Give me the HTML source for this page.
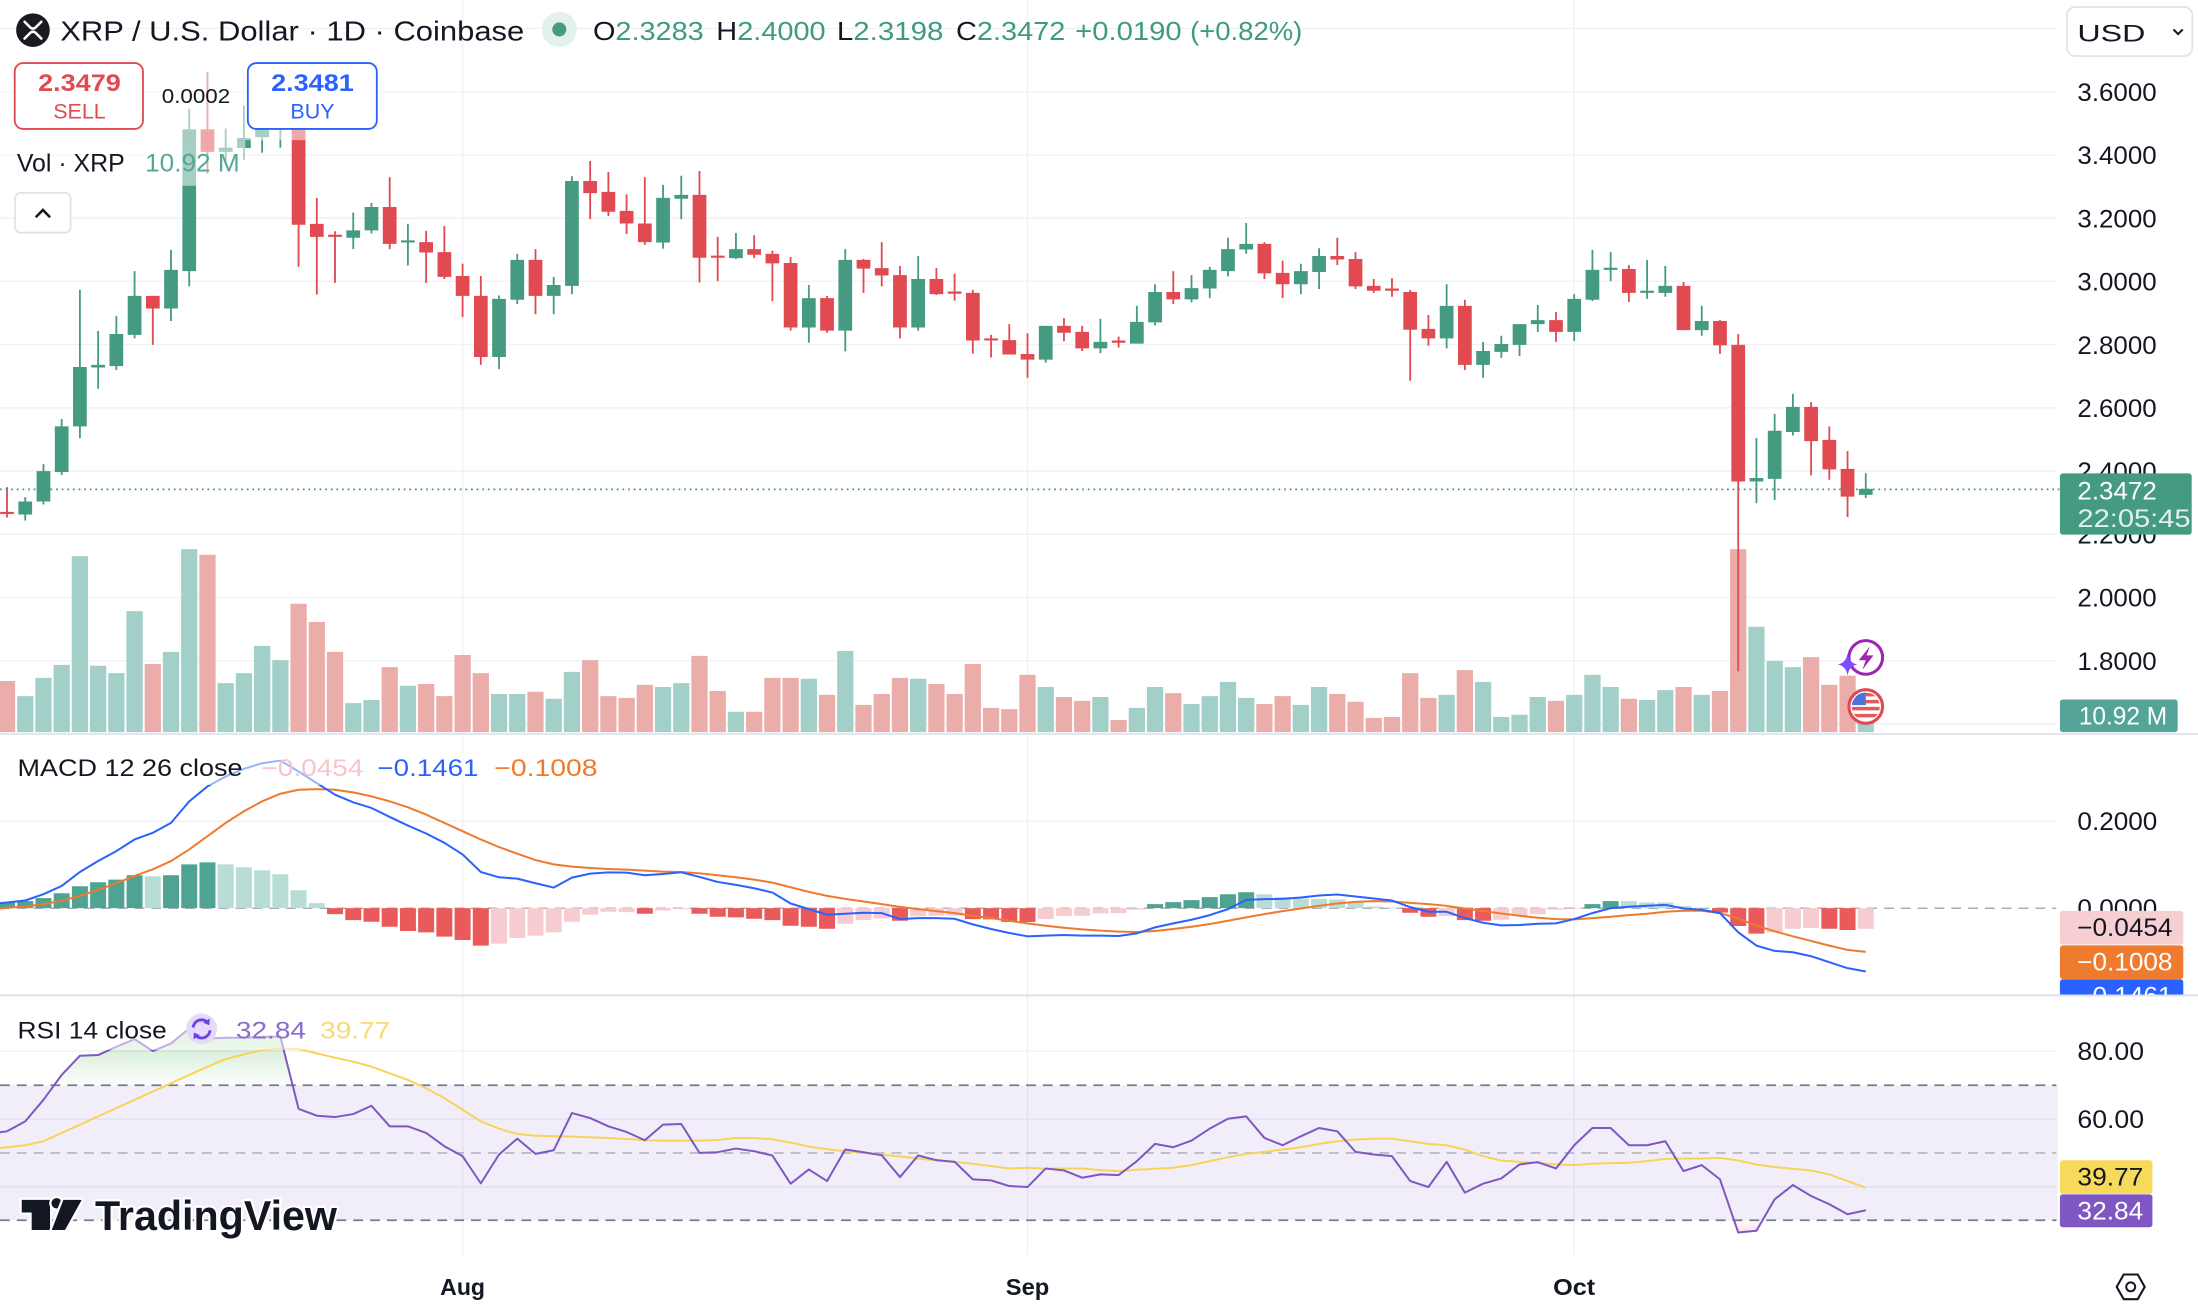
<!DOCTYPE html>
<html><head><meta charset="utf-8"><style>
html,body{margin:0;padding:0;background:#fff;width:2198px;height:1308px;overflow:hidden}
svg{display:block}
</style></head><body>
<svg xmlns="http://www.w3.org/2000/svg" width="2198" height="1308" viewBox="0 0 1568 933.1" font-family="'Liberation Sans', sans-serif">
<defs>
<linearGradient id="ob" x1="0" y1="0" x2="0" y2="1"><stop offset="0" stop-color="#4caf50" stop-opacity="0.32"/><stop offset="1" stop-color="#4caf50" stop-opacity="0.02"/></linearGradient>
<linearGradient id="os" x1="0" y1="0" x2="0" y2="1"><stop offset="0" stop-color="#f23645" stop-opacity="0.02"/><stop offset="1" stop-color="#f23645" stop-opacity="0.15"/></linearGradient>
<clipPath id="mclip"><rect x="1460" y="640" width="108" height="69.5"/></clipPath>
<clipPath id="flag"><circle cx="1331" cy="504" r="10"/></clipPath>
</defs>
<rect width="1568" height="933.1" fill="#fff"/>

<!-- grid -->
<g stroke="#eff1f5" stroke-width="1">
<path d="M0 20.3H1467M0 65.4H1467M0 110.5H1467M0 155.6H1467M0 200.7H1467M0 245.8H1467M0 290.9H1467M0 336H1467M0 381.1H1467M0 426.2H1467M0 471.3H1467M0 516.4H1467M0 585.9H1467M0 749.8H1467M0 798.3H1467"/>
<path d="M330 0V895M733 0V895M1123 0V895"/>
</g>

<!-- RSI band -->
<rect x="0" y="774.2" width="1468" height="96.3" fill="#7e57c2" fill-opacity="0.1"/>
<path d="M0 846.6H1467" stroke="#e3dfee" stroke-width="1"/>
<path d="M0 774.2H1467M0 870.5H1467" stroke="#787b86" stroke-width="1.2" stroke-dasharray="7 5"/>
<path d="M0 822.5H1467" stroke="#b2b5be" stroke-width="1.2" stroke-dasharray="7 5"/>
<path d="M0 647.9H1467" stroke="#a9acb5" stroke-width="1.1" stroke-dasharray="7 5"/>

<!-- price pane: volume + candles -->
<g transform="translate(0 42.8) scale(1 0.30935)">
<path stroke="#a3cfc9" stroke-width="11.6" fill="none" d="M18 1467V1550M31 1425V1550M44 1395V1550M57 1144V1550M70 1397V1550M83 1414V1550M96 1271V1550M122 1365V1550M135 1128V1550M161 1437V1550M174 1414V1550M187 1351V1550M200 1384V1550M252 1483V1550M265 1476V1550M291 1443V1550M356 1462V1550M369 1462V1550M395 1473V1550M408 1411V1550M473 1446V1550M486 1437V1550M525 1503V1550M577 1427V1550M603 1363V1550M655 1427V1550M746 1446V1550M785 1469V1550M811 1494V1550M824 1446V1550M850 1485V1550M863 1467V1550M876 1434V1550M889 1471V1550M928 1487V1550M941 1446V1550M1032 1464V1550M1058 1434V1550M1071 1515V1550M1084 1510V1550M1097 1469V1550M1123 1464V1550M1136 1418V1550M1149 1446V1550M1175 1476V1550M1188 1453V1550M1214 1464V1550M1253 1307V1550M1266 1386V1550M1279 1400V1550M1331 1500V1550"/>
<path stroke="#ebadaa" stroke-width="11.6" fill="none" d="M5 1432V1550M109 1393V1550M148 1141V1550M213 1254V1550M226 1296V1550M239 1365V1550M278 1400V1550M304 1439V1550M317 1467V1550M330 1372V1550M343 1414V1550M382 1457V1550M421 1384V1550M434 1467V1550M447 1471V1550M460 1441V1550M499 1374V1550M512 1455V1550M538 1503V1550M551 1425V1550M564 1425V1550M590 1464V1550M616 1487V1550M629 1462V1550M642 1425V1550M668 1439V1550M681 1462V1550M694 1393V1550M707 1494V1550M720 1497V1550M733 1418V1550M759 1469V1550M772 1478V1550M798 1522V1550M837 1460V1550M902 1485V1550M915 1467V1550M954 1462V1550M967 1480V1550M980 1517V1550M993 1515V1550M1006 1414V1550M1019 1471V1550M1045 1407V1550M1110 1478V1550M1162 1473V1550M1201 1446V1550M1227 1455V1550M1240 1128V1550M1292 1377V1550M1305 1441V1550M1318 1420V1550"/>
<!-- green candles -->
<path stroke="#459a82" stroke-width="1.3" fill="none" d="M18 1008V1062M31 932V1025M44 828V957M57 530V872M70 625V758M83 590V715M96 487V642M122 438V602M135 112V522M161 158V235M174 105V230M187 130V214M200 125V202M252 352V436M265 330V400M291 378V474M356 543V713M369 447V563M395 500V586M408 268V540M473 288V435M486 267V367M525 399V459M577 519V652M603 436V672M655 452V624M746 613V698M785 597V676M811 567V654M824 517V612M850 496V559M863 477V549M876 410V499M889 376V447M928 470V540M941 434V528M1032 517V665M1058 650V733M1071 636V687M1084 609V683M1097 565V627M1123 540V648M1136 438V556M1149 443V510M1175 461V551M1188 475V546M1214 567V636M1253 872V1022M1266 816V1015M1279 770V866M1331 953V1010"/>
<path stroke="#459a82" stroke-width="9.8" fill="none" d="M18 1018V1048M31 948V1018M44 845V950M57 708V845M70 703V709M83 632V706M96 544V634M122 484V573M135 160V487M161 202V212M174 180V203M187 150V178M200 135V155M252 393V410M265 339V393M291 416V421M356 551V685M369 461V553M395 519V544M408 279V521M473 318V421M486 311V320M525 436V457M577 549V617M603 461V624M655 505V617M746 613V691M785 650V665M811 604V654M824 535V605M850 526V552M863 484V527M876 436V487M889 424V437M928 487V517M941 452V489M1032 567V642M1058 671V703M1071 655V673M1084 609V657M1097 600V609M1123 551V627M1136 484V553M1149 479V484M1175 532V537M1188 521V537M1214 602V623M1253 964V972M1266 855V966M1279 800V858M1331 989V1003"/>
<!-- red candles -->
<path stroke="#e04a50" stroke-width="1.3" fill="none" d="M5 985V1055M109 544V657M148 28V262M213 130V477M226 318V541M239 395V514M278 270V436M304 394V514M317 383V505M330 470V593M343 498V703M382 436V586M421 233V367M434 258V360M447 310V401M460 270V426M499 256V513M512 408V510M538 404V457M551 440V556M564 454V624M590 544V629M616 459V537M629 420V522M642 475V642M668 480V542M681 493V555M694 530V677M707 634V686M720 609V679M733 630V733M759 595V649M772 613V671M798 638V663M837 487V563M902 420V505M915 463V549M954 410V473M967 443V528M980 505V537M993 503V546M1006 530V740M1019 588V659M1045 553V715M1110 581V650M1162 473V558M1201 512V623M1227 600V678M1240 632V1410M1292 789V958M1305 845V968M1318 902V1054"/>
<path stroke="#e04a50" stroke-width="9.8" fill="none" d="M5 1042V1047M109 544V573M148 160V212M213 140V380M226 378V408M239 403V408M278 339V424M304 420V444M317 443V500M330 498V544M343 544V685M382 461V544M421 279V307M434 304V350M447 348V377M460 377V420M499 311V456M512 451V456M538 436V449M551 447V469M564 468V617M590 549V624M616 461V481M629 480V497M642 496V617M668 505V540M681 534V539M694 537V647M707 642V647M720 646V679M733 678V691M759 613V629M772 627V665M798 647V652M837 535V552M902 424V492M915 491V517M954 452V460M967 459V522M980 521V532M993 527V532M1006 535V622M1019 620V642M1045 567V703M1110 600V627M1162 482V537M1201 521V623M1227 602V658M1240 657V972M1292 800V879M1305 876V944M1318 943V1007"/>
</g>

<!-- current price dotted line -->
<path d="M0 349.1H1469" stroke="#459a82" stroke-width="1.2" stroke-dasharray="1.3 2.7"/>

<!-- event icons -->
<circle cx="1331" cy="469" r="12" fill="#fff" stroke="#9c27b0" stroke-width="2.2"/>
<path d="M1334 461L1326 471H1331L1328.5 478L1336.5 467.5H1331.5Z" fill="#9c27b0"/>
<path d="M1318 466Q1319 473 1325 474Q1319 475 1318 482Q1317 475 1311 474Q1317 473 1318 466Z" fill="#7c4dff"/>
<circle cx="1331" cy="504" r="12" fill="#fff" stroke="#e04a50" stroke-width="2.2"/>
<g clip-path="url(#flag)">
<rect x="1320" y="493" width="22" height="22" fill="#fff"/>
<path d="M1320 495.5H1342M1320 500.5H1342M1320 505.5H1342M1320 510.5H1342" stroke="#e25b5f" stroke-width="2.5"/>
<rect x="1320" y="493" width="11" height="10" fill="#4a76d9"/>
</g>

<!-- MACD / RSI -->
<g transform="translate(0 527.9) scale(1 0.23657)">
<path stroke="#4fa392" stroke-width="11.4" fill="none" d="M5 490V507M18 486V507M31 477V507M44 462V507M57 441V507M70 429V507M83 421V507M96 408V507M122 408V507M135 375V507M148 369V507M824 495V507M837 489V507M850 483V507M863 474V507M876 465V507M889 459V507M1136 495V507M1149 486V507"/>
<path stroke="#b8ddd7" stroke-width="11.4" fill="none" d="M109 411V507M161 375V507M174 384V507M187 393V507M200 405V507M213 453V507M226 492V507M902 465V507M915 474V507M928 478V507M941 479V507M954 481V507M967 490V507M980 502V507M993 505V507M1162 486V507M1175 490V507M1188 490V507M1201 501V507M1214 505V507"/>
<path stroke="#ea5a5a" stroke-width="11.4" fill="none" d="M239 507V525M252 507V543M265 507V548M278 507V563M291 507V576M304 507V580M317 507V593M330 507V603M343 507V620M460 507V524M499 507V524M512 507V533M525 507V535M538 507V539M551 507V543M564 507V560M577 507V563M590 507V569M642 507V545M694 507V540M707 507V541M720 507V549M733 507V549M1006 507V521M1019 507V533M1045 507V543M1058 507V545M1227 507V520M1240 507V561M1253 507V584M1305 507V569M1318 507V573"/>
<path stroke="#f7ccd0" stroke-width="11.4" fill="none" d="M356 507V614M369 507V597M382 507V590M395 507V580M408 507V548M421 507V527M434 507V518M447 507V519M473 507V514M486 507V510M603 507V554M616 507V543M629 507V538M655 507V532M668 507V530M681 507V530M746 507V540M759 507V531M772 507V530M785 507V523M798 507V522M811 507V512M1032 507V531M1071 507V542M1084 507V531M1097 507V525M1110 507V512M1123 507V509M1266 507V580M1279 507V569M1292 507V567M1331 507V569"/>
<polyline fill="none" stroke="#f07a2c" stroke-width="2" vector-effect="non-scaling-stroke" stroke-linejoin="round" points="0,508 5,506 18,502 31,495 44,485 57,470 70,452 83,432 96,410 109,390 122,365 135,330 148,290 161,250 174,215 187,185 200,162 213,150 226,148 239,150 252,158 265,170 278,185 291,203 304,225 317,250 330,275 343,300 356,323 369,343 382,362 395,375 408,382 421,386 434,389 447,391 460,394 473,397 486,398 499,402 512,408 525,414 538,421 551,430 564,444 577,458 590,470 603,479 616,487 629,495 642,503 655,510 668,516 681,522 694,530 707,537 720,545 733,553 746,560 759,566 772,571 785,575 798,578 811,579 824,576 837,570 850,563 863,555 876,545 889,535 902,525 915,516 928,508 941,500 954,493 967,488 980,486 993,487 1006,491 1019,495 1032,500 1045,508 1058,516 1071,523 1084,530 1097,536 1110,540 1123,541 1136,537 1149,533 1162,528 1175,524 1188,518 1201,515 1214,515 1227,522 1240,538 1253,560 1266,577 1279,592 1292,606 1305,620 1318,633 1331,639"/>
<polyline fill="none" stroke="#2962ff" stroke-width="2" vector-effect="non-scaling-stroke" stroke-linejoin="round" points="0,492 5,490 18,484 31,465 44,440 57,398 70,365 83,335 96,300 109,280 122,250 135,185 148,140 161,110 174,87 187,70 200,62 213,95 226,130 239,165 252,188 265,205 278,232 291,258 304,282 317,310 330,345 343,398 356,414 369,418 382,432 395,445 408,415 421,403 434,399 447,400 460,408 473,404 486,399 499,413 512,428 525,437 538,447 551,460 564,493 577,510 590,527 603,524 616,521 629,522 642,540 655,537 668,537 681,539 694,556 707,570 720,582 733,592 746,590 759,588 772,590 785,590 798,591 811,583 824,565 837,553 850,542 863,528 876,510 889,482 902,480 915,479 928,475 941,469 954,466 967,472 980,478 993,484 1006,504 1019,518 1032,518 1045,537 1058,551 1071,559 1084,558 1097,554 1110,553 1123,540 1136,522 1149,507 1162,503 1175,500 1188,497 1201,508 1214,512 1227,522 1240,580 1253,620 1266,636 1279,640 1292,652 1305,670 1318,688 1331,698"/>
<!-- RSI fills -->
<polygon fill="url(#ob)" points="38.6,1041 44,1010 57,952 70,950 83,925 96,902 109,938 122,915 135,870 148,900 161,898 174,898 187,895 200,895 208.7,1041"/>
<polygon fill="url(#os)" points="1237,1448 1240,1485 1253,1480 1257.4,1448"/>
<polyline fill="none" stroke="#f7d459" stroke-width="2" vector-effect="non-scaling-stroke" stroke-linejoin="round" points="0,1230 5,1228 18,1222 31,1210 44,1185 57,1160 70,1135 83,1110 96,1085 109,1060 122,1035 135,1010 148,985 161,962 174,948 187,935 200,930 213,932 226,945 239,958 252,970 265,985 278,1005 291,1025 304,1050 317,1080 330,1115 343,1150 356,1172 369,1188 382,1193 395,1195 408,1196 421,1198 434,1200 447,1203 460,1207 473,1208 486,1208 499,1208 512,1206 525,1200 538,1200 551,1204 564,1214 577,1226 590,1234 603,1240 616,1245 629,1250 642,1256 655,1262 668,1268 681,1272 694,1278 707,1285 720,1292 733,1290 746,1293 759,1292 772,1292 785,1297 798,1300 811,1296 824,1293 837,1290 850,1282 863,1270 876,1258 889,1248 902,1242 915,1235 928,1228 941,1218 954,1210 967,1205 980,1202 993,1202 1006,1210 1019,1218 1032,1222 1045,1235 1058,1255 1071,1268 1084,1272 1097,1275 1110,1280 1123,1282 1136,1278 1149,1276 1162,1275 1175,1270 1188,1263 1201,1262 1214,1262 1227,1260 1240,1268 1253,1280 1266,1288 1279,1293 1292,1298 1305,1310 1318,1330 1331,1350"/>
<polyline fill="none" stroke="#7e57c2" stroke-width="2" vector-effect="non-scaling-stroke" stroke-linejoin="round" points="0,1183 5,1180 18,1150 31,1085 44,1010 57,952 70,950 83,925 96,902 109,938 122,915 135,870 148,900 161,898 174,898 187,895 200,895 213,1112 226,1133 239,1137 252,1128 265,1103 278,1165 291,1165 304,1185 317,1225 330,1255 343,1337 356,1250 369,1202 382,1248 395,1237 408,1125 421,1140 434,1165 447,1182 460,1207 473,1160 486,1158 499,1245 512,1243 525,1232 538,1240 551,1253 564,1338 577,1295 590,1330 603,1235 616,1243 629,1252 642,1318 655,1253 668,1267 681,1272 694,1325 707,1328 720,1345 733,1348 746,1292 759,1298 772,1320 785,1310 798,1312 811,1270 824,1218 837,1228 850,1208 863,1172 876,1142 889,1135 902,1200 915,1222 928,1195 941,1170 954,1180 967,1242 980,1250 993,1255 1006,1330 1019,1348 1032,1272 1045,1365 1058,1338 1071,1322 1084,1280 1097,1273 1110,1292 1123,1222 1136,1170 1149,1170 1162,1222 1175,1222 1188,1210 1201,1300 1214,1282 1227,1325 1240,1485 1253,1480 1266,1385 1279,1342 1292,1375 1305,1400 1318,1430 1331,1418"/>
</g>

<!-- legend fade overlays -->
<g fill="#fff" fill-opacity="0.52">
<rect x="0" y="40" width="274" height="60"/>
<rect x="0" y="100" width="175" height="32.5"/>
<rect x="0" y="536" width="428" height="24"/>
<rect x="0" y="723.5" width="287" height="25.5"/>
</g>

<!-- separators -->
<rect x="0" y="523" width="1568" height="1.3" fill="#e0e3eb"/>
<rect x="0" y="709.3" width="1568" height="1.6" fill="#e0e3eb"/>

<!-- header -->
<circle cx="23.5" cy="21.5" r="12" fill="#1b1b1f"/>
<path d="M17.5 15.5L21.3 19.3Q23.5 21.5 25.7 19.3L29.5 15.5M17.5 27.5L21.3 23.7Q23.5 21.5 25.7 23.7L29.5 27.5" stroke="#fff" stroke-width="1.8" fill="none" stroke-linecap="round"/>
<text x="43" y="29" font-size="20" fill="#131722" textLength="331" lengthAdjust="spacingAndGlyphs">XRP / U.S. Dollar · 1D · Coinbase</text>
<circle cx="399" cy="21" r="12.5" fill="#e2f1ec"/>
<circle cx="399" cy="21" r="5" fill="#459a82"/>
<g font-size="18.5">
<text x="423" y="28.5" textLength="79" lengthAdjust="spacingAndGlyphs"><tspan fill="#131722">O</tspan><tspan fill="#3e9a83">2.3283</tspan></text>
<text x="511" y="28.5" textLength="78" lengthAdjust="spacingAndGlyphs"><tspan fill="#131722">H</tspan><tspan fill="#3e9a83">2.4000</tspan></text>
<text x="597" y="28.5" textLength="76" lengthAdjust="spacingAndGlyphs"><tspan fill="#131722">L</tspan><tspan fill="#3e9a83">2.3198</tspan></text>
<text x="682" y="28.5" textLength="78" lengthAdjust="spacingAndGlyphs"><tspan fill="#131722">C</tspan><tspan fill="#3e9a83">2.3472</tspan></text>
<text x="767" y="28.5" textLength="76" lengthAdjust="spacingAndGlyphs" fill="#3e9a83">+0.0190</text>
<text x="849" y="28.5" textLength="80" lengthAdjust="spacingAndGlyphs" fill="#3e9a83">(+0.82%)</text>
</g>

<!-- sell / buy -->
<rect x="10.5" y="45" width="91.5" height="47" rx="6" fill="#fff" stroke="#e04a50" stroke-width="1.3"/>
<text x="56.7" y="65" font-size="17" font-weight="bold" fill="#e04a50" text-anchor="middle" textLength="59" lengthAdjust="spacingAndGlyphs">2.3479</text>
<text x="56.7" y="84.4" font-size="15" fill="#e04a50" text-anchor="middle" textLength="37.5" lengthAdjust="spacingAndGlyphs">SELL</text>
<text x="115.4" y="73.5" font-size="14.5" fill="#131722" textLength="48.8" lengthAdjust="spacingAndGlyphs">0.0002</text>
<rect x="176.8" y="45" width="92" height="47" rx="6" fill="#fff" stroke="#2962ff" stroke-width="1.3"/>
<text x="222.9" y="65" font-size="17" font-weight="bold" fill="#2962ff" text-anchor="middle" textLength="59" lengthAdjust="spacingAndGlyphs">2.3481</text>
<text x="222.9" y="84.4" font-size="15" fill="#2962ff" text-anchor="middle" textLength="31.5" lengthAdjust="spacingAndGlyphs">BUY</text>

<text x="12" y="122.5" font-size="17.5" fill="#131722" textLength="77" lengthAdjust="spacingAndGlyphs">Vol · XRP</text>
<text x="103.5" y="122.5" font-size="17.5" fill="#52a797" textLength="67.5" lengthAdjust="spacingAndGlyphs">10.92 M</text>
<rect x="10.8" y="137.6" width="39.6" height="28.4" rx="4" fill="#fff" stroke="#e0e3eb" stroke-width="1.3"/>
<path d="M25.5 155L30.6 149.8L35.7 155" stroke="#131722" stroke-width="1.8" fill="none"/>

<!-- MACD legend -->
<text x="12.5" y="553.5" font-size="17" fill="#131722" textLength="160.5" lengthAdjust="spacingAndGlyphs">MACD 12 26 close</text>
<text x="186.5" y="553.5" font-size="17" fill="#f8c4c9" textLength="72.8" lengthAdjust="spacingAndGlyphs">−0.0454</text>
<text x="269.3" y="553.5" font-size="17" fill="#2962ff" textLength="72" lengthAdjust="spacingAndGlyphs">−0.1461</text>
<text x="352.6" y="553.5" font-size="17" fill="#f07a2c" textLength="73.7" lengthAdjust="spacingAndGlyphs">−0.1008</text>

<!-- RSI legend -->
<text x="12.5" y="740.8" font-size="17" fill="#131722" textLength="106.5" lengthAdjust="spacingAndGlyphs">RSI 14 close</text>
<circle cx="143.8" cy="734" r="11" fill="#e3dbf7"/>
<path d="M137.8 733A6 6 0 0 1 148.5 729.8M149.8 735A6 6 0 0 1 139.1 738.2" stroke="#6b3ff0" stroke-width="2" fill="none"/>
<path d="M149.6 726.5L149.3 731.4L145 729.6Z M138 741.5L138.3 736.6L142.6 738.4Z" fill="#6b3ff0"/>
<text x="168.3" y="740.8" font-size="17" fill="#8a6ccf" textLength="50" lengthAdjust="spacingAndGlyphs">32.84</text>
<text x="228.4" y="740.8" font-size="17" fill="#f8da74" textLength="50" lengthAdjust="spacingAndGlyphs">39.77</text>

<!-- TradingView logo (white halo, no box) -->
<g fill="#131722" stroke="#fff" stroke-width="3.2" stroke-linejoin="round" paint-order="stroke">
<path d="M15.5 856H35.7V877.5H22.6V865H15.5Z"/>
<circle cx="40.4" cy="858.4" r="3.7"/>
<polygon points="45.2,856 58.3,856 46.4,877.5 36.9,877.5"/>
<text x="67.8" y="877.5" font-size="30" font-weight="bold" textLength="172.6" lengthAdjust="spacingAndGlyphs">TradingView</text>
</g>

<!-- USD -->
<rect x="1474.5" y="5" width="89.5" height="35" rx="6" fill="#fff" stroke="#e0e3eb" stroke-width="1.2"/>
<text x="1482" y="29.5" font-size="17" fill="#131722" textLength="48.5" lengthAdjust="spacingAndGlyphs">USD</text>
<path d="M1550.5 21L1553.8 24.3L1557.1 21" stroke="#131722" stroke-width="1.5" fill="none"/>

<!-- price axis -->
<g font-size="18" fill="#131722">
<text x="1482" y="72" textLength="56.5" lengthAdjust="spacingAndGlyphs">3.6000</text>
<text x="1482" y="117" textLength="56.5" lengthAdjust="spacingAndGlyphs">3.4000</text>
<text x="1482" y="162.2" textLength="56.5" lengthAdjust="spacingAndGlyphs">3.2000</text>
<text x="1482" y="207.3" textLength="56.5" lengthAdjust="spacingAndGlyphs">3.0000</text>
<text x="1482" y="252.4" textLength="56.5" lengthAdjust="spacingAndGlyphs">2.8000</text>
<text x="1482" y="297.5" textLength="56.5" lengthAdjust="spacingAndGlyphs">2.6000</text>
<text x="1482" y="342.6" textLength="56.5" lengthAdjust="spacingAndGlyphs">2.4000</text>
<text x="1482" y="387.7" textLength="56.5" lengthAdjust="spacingAndGlyphs">2.2000</text>
<text x="1482" y="432.8" textLength="56.5" lengthAdjust="spacingAndGlyphs">2.0000</text>
<text x="1482" y="477.9" textLength="56.5" lengthAdjust="spacingAndGlyphs">1.8000</text>
</g>
<rect x="1469.5" y="337.7" width="94" height="43.7" rx="2" fill="#459a82"/>
<text x="1482" y="356.3" font-size="18" fill="#fff" textLength="56.6" lengthAdjust="spacingAndGlyphs">2.3472</text>
<text x="1482" y="376" font-size="18" fill="#fff" fill-opacity="0.85" textLength="80.7" lengthAdjust="spacingAndGlyphs">22:05:45</text>
<rect x="1469.5" y="499" width="84" height="23.3" rx="2" fill="#54a597"/>
<text x="1483" y="516.8" font-size="18" fill="#fff" textLength="63" lengthAdjust="spacingAndGlyphs">10.92 M</text>

<!-- MACD axis -->
<g font-size="18" fill="#131722">
<text x="1482" y="592" textLength="57" lengthAdjust="spacingAndGlyphs">0.2000</text>
<text x="1482" y="654" textLength="57" lengthAdjust="spacingAndGlyphs">0.0000</text>
</g>
<g clip-path="url(#mclip)">
<rect x="1469.5" y="649.8" width="88" height="24" rx="2" fill="#f7ced2"/>
<text x="1481.8" y="667.8" font-size="18" fill="#131722" textLength="68" lengthAdjust="spacingAndGlyphs">−0.0454</text>
<rect x="1469.5" y="674.4" width="88" height="24" rx="2" fill="#ef7b2f"/>
<text x="1481.8" y="692.4" font-size="18" fill="#fff" textLength="68" lengthAdjust="spacingAndGlyphs">−0.1008</text>
<rect x="1469.5" y="698.6" width="88" height="24" rx="2" fill="#2962ff"/>
<text x="1481.8" y="716.6" font-size="18" fill="#fff" textLength="68" lengthAdjust="spacingAndGlyphs">−0.1461</text>
</g>

<!-- RSI axis -->
<g font-size="18" fill="#131722">
<text x="1482" y="756.2" textLength="47.5" lengthAdjust="spacingAndGlyphs">80.00</text>
<text x="1482" y="804.7" textLength="47.5" lengthAdjust="spacingAndGlyphs">60.00</text>
</g>
<rect x="1469.5" y="827.7" width="66" height="24" rx="2" fill="#f7d95c"/>
<text x="1482" y="845.8" font-size="18" fill="#131722" textLength="47" lengthAdjust="spacingAndGlyphs">39.77</text>
<rect x="1469.5" y="852" width="66" height="23.5" rx="2" fill="#7e57c2"/>
<text x="1482" y="869.8" font-size="18" fill="#fff" textLength="47" lengthAdjust="spacingAndGlyphs">32.84</text>

<!-- time axis -->
<g font-size="16.5" font-weight="bold" fill="#131722" text-anchor="middle">
<text x="330" y="924" textLength="32" lengthAdjust="spacingAndGlyphs">Aug</text>
<text x="733" y="924" textLength="31" lengthAdjust="spacingAndGlyphs">Sep</text>
<text x="1123" y="924" textLength="30" lengthAdjust="spacingAndGlyphs">Oct</text>
</g>
<polygon points="1510,918 1515,909.2 1525,909.2 1530,918 1525,926.8 1515,926.8" fill="none" stroke="#131722" stroke-width="1.5"/>
<circle cx="1520" cy="918" r="3.2" fill="none" stroke="#131722" stroke-width="1.4"/>
</svg>
</body></html>
